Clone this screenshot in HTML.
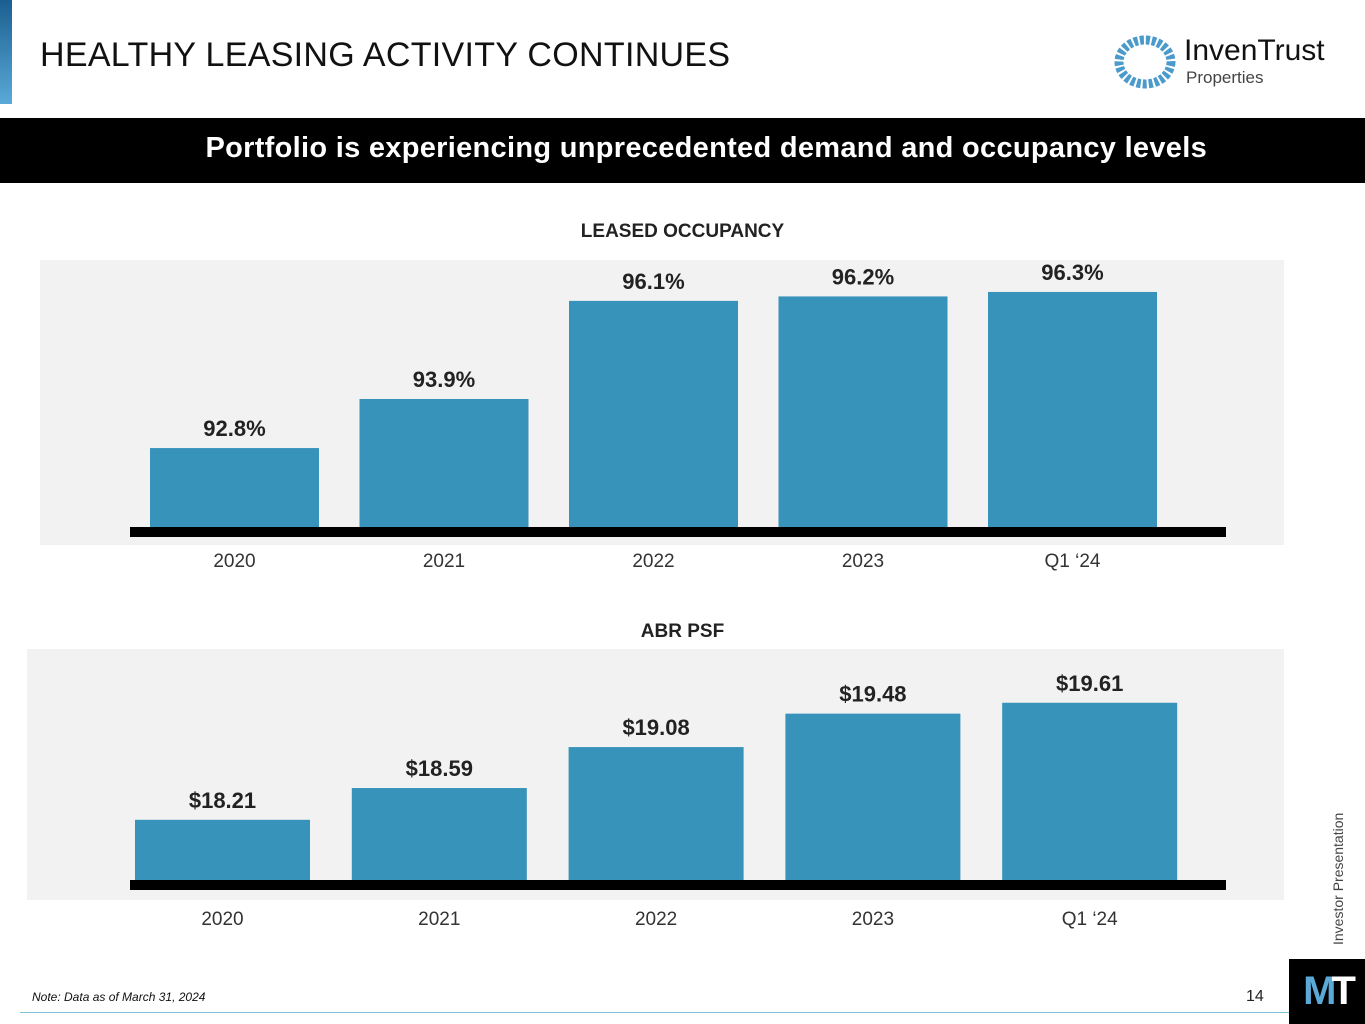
<!DOCTYPE html>
<html><head><meta charset="utf-8"><style>
body{margin:0;width:1365px;height:1024px;background:#fff;font-family:"Liberation Sans",sans-serif;position:relative;overflow:hidden}
.abs{position:absolute}
</style></head><body>
<div class="abs" style="left:0;top:0;width:12px;height:104px;background:linear-gradient(#1a5f8f,#5aa9d6)"></div>
<div class="abs" style="left:40px;top:36px;font-size:34px;color:#111;letter-spacing:0.3px">HEALTHY LEASING ACTIVITY CONTINUES</div>
<div class="abs" style="left:1112px;top:32px;width:240px;height:60px">
<svg width="66" height="60" style="position:absolute;left:0;top:0"><g fill="#3a8fc4">
<ellipse cx="33" cy="30" rx="26" ry="22" fill="none" stroke="#4a9acc" stroke-width="9" stroke-dasharray="4 2"/></g></svg>
<div class="abs" style="left:72px;top:2px;font-size:30px;color:#111">InvenTrust</div>
<div class="abs" style="left:74px;top:36px;font-size:17px;color:#444">Properties</div>
</div>
<div class="abs" style="left:0;top:118px;width:1365px;height:65px;background:#000"></div>
<div class="abs" style="left:0;top:132px;width:1207px;text-align:right;color:#fff;font-weight:bold;font-size:29px;letter-spacing:0.3px">Portfolio is experiencing unprecedented demand and occupancy levels</div>

<div class="abs" style="left:0;top:221px;width:1365px;text-align:center;font-weight:bold;font-size:19px;color:#222">LEASED OCCUPANCY</div>
<div class="abs" style="left:0;top:621px;width:1365px;text-align:center;font-weight:bold;font-size:19px;color:#222">ABR PSF</div>

<svg class="abs" style="left:0;top:0" width="1365" height="1024" id="charts">
<rect x="40" y="260" width="1244" height="285" fill="#f2f2f2"/>
<rect x="27" y="649" width="1257" height="251" fill="#f2f2f2"/>
</svg>

<div class="abs" style="left:1330px;top:945px;transform:rotate(-90deg);transform-origin:0 0;font-size:14px;color:#444;white-space:nowrap">Investor Presentation</div>
<div class="abs" style="left:32px;top:990px;font-size:12px;font-style:italic;color:#111">Note: Data as of March 31, 2024</div>
<div class="abs" style="left:1246px;top:988px;font-size:16px;color:#222">14</div>
<div class="abs" style="left:20px;top:1012px;width:1270px;height:1px;background:#7cc4d6"></div>
<div class="abs" style="left:1289px;top:959px;width:76px;height:65px;background:#000;color:#fff;font-weight:bold;font-size:40px;text-align:center;line-height:65px;letter-spacing:-5px"><span style="color:#5aa9d6">M</span>T</div>

<script>
const cats=["2020","2021","2022","2023","Q1 \u201824"];
const occVals=[92.8,93.9,96.1,96.2,96.3];
const occLabels=["92.8%","93.9%","96.1%","96.2%","96.3%"];
const abrVals=[18.21,18.59,19.08,19.48,19.61];
const abrLabels=["$18.21","$18.59","$19.08","$19.48","$19.61"];
const NS="http://www.w3.org/2000/svg";
const svg=document.getElementById('charts');
function mk(t,a){const e=document.createElementNS(NS,t);for(const k in a)e.setAttribute(k,a[k]);svg.appendChild(e);return e;}
function draw(vals,labels,cfg,prefix){
  const y=v=>cfg.base-(v-cfg.min)*cfg.ppu;
  vals.forEach((v,i)=>{
    const x=cfg.x0+i*cfg.step;
    const r=mk('rect',{x:x,y:y(v),width:cfg.w,height:cfg.base-y(v),fill:'#3893ba'});
    
    
    const t=mk('text',{x:x+cfg.w/2,y:y(v)-12,'text-anchor':'middle','font-size':22,'font-weight':'bold',fill:'#222','font-family':'Liberation Sans'});
    t.textContent=labels[i];
    
    
    const c=mk('text',{x:x+cfg.w/2,y:cfg.catY,'text-anchor':'middle','font-size':19,fill:'#333','font-family':'Liberation Sans'});
    c.textContent=cats[i];
    
    
  });
  const b=mk('rect',{x:130,y:cfg.base,width:1096,height:10,fill:'#000'});
  
  
}
draw(occVals,occLabels,{base:527,min:91.03,ppu:44.6,x0:150,step:209.5,w:169,catY:567},'occupancy');
draw(abrVals,abrLabels,{base:880,min:17.49,ppu:83.6,x0:135,step:216.8,w:175,catY:925},'abr');
</script>
</body></html>
